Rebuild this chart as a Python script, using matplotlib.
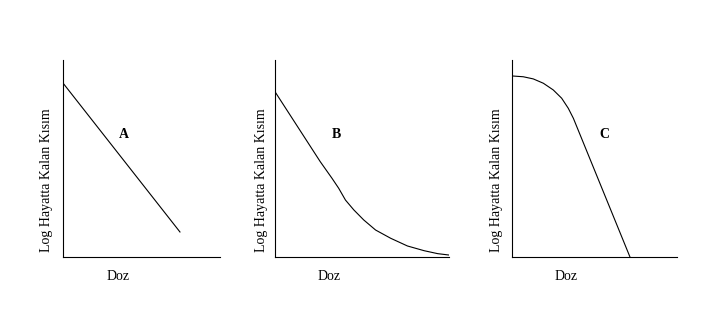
import matplotlib
matplotlib.use("Agg")
import matplotlib.pyplot as plt

W, H, DPI = 710, 331, 100

# Curve shapes (dose on x, log surviving fraction on y, both normalised to 0..1)
dose_a = [0.0, 0.745]
surv_a = [0.883, 0.127]

dose_b = [0.0, 0.260, 0.328, 0.366, 0.405, 0.453, 0.510, 0.578, 0.665, 0.761,
          0.857, 0.935, 1.0]
surv_b = [0.839, 0.484, 0.399, 0.349, 0.289, 0.239, 0.188, 0.137, 0.095, 0.056,
          0.032, 0.017, 0.010]

dose_c = [0.0, 0.068, 0.129, 0.190, 0.250, 0.301, 0.341, 0.372, 0.715]
surv_c = [0.919, 0.915, 0.904, 0.882, 0.848, 0.806, 0.755, 0.704, 0.0]

panel_letters = ["A", "B", "C"]
y_title = "Log Hayatta Kalan Kısım"
x_title = "Doz"

# pixel boxes of each panel: left, right, top, bottom
boxes = [(63, 220, 60, 257), (275, 449, 60, 257), (512, 677, 60, 257)]
letter_pos = [(124, 134), (336, 134), (604, 134)]
xlab_pos = [118, 329, 566]
ylab_x = [47, 262, 497]

fig = plt.figure(figsize=(W / DPI, H / DPI), dpi=DPI)
fig.patch.set_facecolor("white")
serif = ["Liberation Serif", "DejaVu Serif"]

def fx(px):
    return px / W

def fy(py):
    return 1 - py / H

for i, (xs, ys) in enumerate([(dose_a, surv_a), (dose_b, surv_b), (dose_c, surv_c)]):
    l, r, t, b = boxes[i]
    ax = fig.add_axes([fx(l), fy(b), (r - l) / W, (b - t) / H])
    ax.plot(xs, ys, color="black", lw=0.8, solid_joinstyle="round")
    ax.set_xlim(0, 1)
    ax.set_ylim(0, 1)
    for side in ("top", "right"):
        ax.spines[side].set_visible(False)
    for side in ("left", "bottom"):
        ax.spines[side].set_linewidth(0.8)
    ax.set_xticks([])
    ax.set_yticks([])
    ax.patch.set_alpha(0)

    lx, ly = letter_pos[i]
    fig.text(fx(lx), fy(ly), panel_letters[i], family=serif, fontsize=10,
             fontweight="bold", ha="center", va="center")
    fig.text(fx(xlab_pos[i]), fy(277), x_title, family=serif, fontsize=10,
             ha="center", va="center")
    fig.text(fx(ylab_x[i]), fy(180), y_title, family=serif, fontsize=10,
             rotation=90, ha="center", va="center")

fig.savefig("out.png", dpi=DPI, facecolor="white")
